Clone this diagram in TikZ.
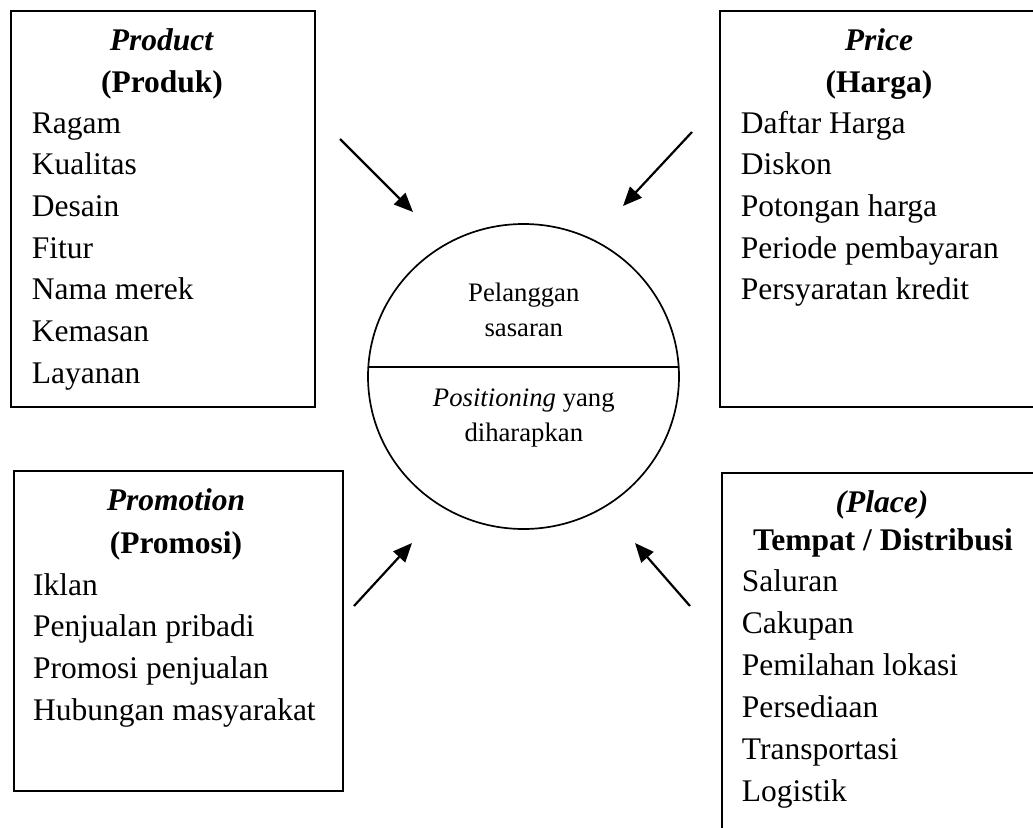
\documentclass[tikz,border=0pt]{standalone}
\usepackage{fontspec}
\setmainfont{Liberation Serif}
\usetikzlibrary{arrows.meta,shapes.geometric}
\begin{document}
\begin{tikzpicture}[x=1pt,y=-1pt,
  boxline/.style={draw=black,line width=2.2pt,inner sep=0pt,anchor=north west},
  txt/.style={inner sep=0pt,font=\fontsize{31.5}{41.7}\selectfont},
  itm/.style={txt,anchor=base west},
  ttl/.style={txt,anchor=base},
  ctxt/.style={inner sep=0pt,anchor=base,font=\fontsize{26.7}{34}\selectfont},
  arr/.style={line width=2.2pt,-{Triangle[length=19pt,width=16pt]}}]
\useasboundingbox (0,0) rectangle (1033,827);
\fill[white] (0,0) rectangle (1033,827);

% boxes
\node[boxline,minimum width=304,minimum height=396] (prodbox) at (10,10) {};
\node[boxline,minimum width=321,minimum height=396] (pricebox) at (719,10) {};
\node[boxline,minimum width=329,minimum height=320] (promobox) at (13,470) {};
\node[boxline,minimum width=319,minimum height=373] (placebox) at (721,472) {};

% Product
\node[ttl] (prodt1) at (162,50) {\textbf{\textit{Product}}};
\node[ttl] (prodt2) at (162,92) {\textbf{(Produk)}};
\foreach \t [count=\i] in {Ragam,Kualitas,Desain,Fitur,Nama merek,Kemasan,Layanan}
  \node[itm] (prod\i) at (31.7,{133+(\i-1)*41.7}) {\t};

% Price
\node[ttl] (pricet1) at (879,50) {\textbf{\textit{Price}}};
\node[ttl] (pricet2) at (879,92) {\textbf{(Harga)}};
\foreach \t [count=\i] in {Daftar Harga,Diskon,Potongan harga,Periode pembayaran,Persyaratan kredit}
  \node[itm] (price\i) at (740.7,{133+(\i-1)*41.7}) {\t};

% Promotion
\node[ttl] (promot1) at (176,510) {\textbf{\textit{Promotion}}};
\node[ttl] (promot2) at (176,553) {\textbf{(Promosi)}};
\foreach \t [count=\i] in {Iklan,Penjualan pribadi,Promosi penjualan,Hubungan masyarakat}
  \node[itm] (promo\i) at (33,{595+(\i-1)*41.7}) {\t};

% Place
\node[ttl] (placet1) at (882,512) {\textbf{\textit{(Place)}}};
\node[ttl] (placet2) at (883,550) {\textbf{Tempat / Distribusi}};
\foreach \t [count=\i] in {Saluran,Cakupan,Pemilahan lokasi,Persediaan,Transportasi,Logistik}
  \node[itm] (place\i) at (741.7,{591+(\i-1)*42}) {\t};

% circle
\node[draw,line width=1.7pt,ellipse,minimum width=311,minimum height=305,inner sep=0pt] (circ) at (523.5,376.5) {};
\coordinate (cl) at (368.3,367);
\coordinate (cr) at (678.7,367);
\draw[line width=1.7pt] (cl) -- (cr);
\node[ctxt] (c1) at (523.8,301) {Pelanggan};
\node[ctxt] (c2) at (523.8,336.5) {sasaran};
\node[ctxt] (c3) at (523.8,406.5) {\textit{Positioning} yang};
\node[ctxt] (c4) at (523.8,441.5) {diharapkan};

% arrows
\coordinate (a1s) at (340,139);  \coordinate (a1e) at (413,212);
\coordinate (a2s) at (692,132);  \coordinate (a2e) at (623,206);
\coordinate (a3s) at (354,606);  \coordinate (a3e) at (412,543);
\coordinate (a4s) at (690,606);  \coordinate (a4e) at (635,543);
\draw[arr] (a1s) -- (a1e);
\draw[arr] (a2s) -- (a2e);
\draw[arr] (a3s) -- (a3e);
\draw[arr] (a4s) -- (a4e);
\end{tikzpicture}
\end{document}
